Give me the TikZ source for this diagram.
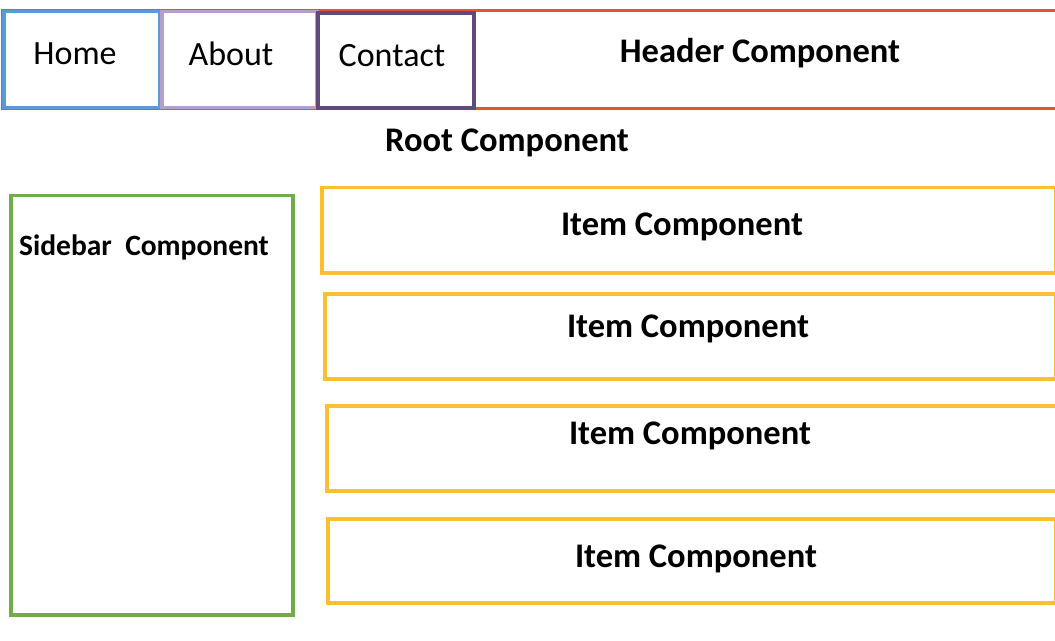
\documentclass[tikz,border=0pt]{standalone}
\usepackage{fontspec}
\setmainfont{Carlito}
\definecolor{headred}{HTML}{E8532F}
\definecolor{navblue}{HTML}{5B9BD5}
\definecolor{navlav}{HTML}{B2A2C7}
\definecolor{navpurple}{HTML}{604A7B}
\definecolor{sidegreen}{HTML}{70AD47}
\definecolor{itemgold}{HTML}{FBBF30}
\begin{document}
\begin{tikzpicture}[x=1bp,y=-1bp,
  frame/.style={draw, line width=3.5bp, inner sep=0pt, anchor=north west},
  navtext/.style={font=\fontsize{34bp}{40bp}\selectfont, anchor=base, inner sep=0pt},
  titletext/.style={font=\fontsize{34.5bp}{40bp}\selectfont\bfseries, anchor=base, inner sep=0pt},
  sidetext/.style={font=\fontsize{29.5bp}{35bp}\selectfont\bfseries, anchor=base, inner sep=0pt}]
  \clip (0,0) rectangle (1055,641);
  \fill[white] (0,0) rectangle (1055,641);

  % header bar with navigation tabs
  \node[frame, draw=headred, minimum width=1070bp, minimum height=98bp] (header) at (1,9) {};
  \node[frame, draw=navblue, minimum width=156bp, minimum height=96bp] (home) at (2,10) {};
  \node[frame, draw=navlav, minimum width=155bp, minimum height=96bp] (about) at (160,10) {};
  \node[frame, draw=navpurple, line width=4bp, minimum width=156bp, minimum height=95bp] (contact) at (316,11) {};
  \node[navtext] (hometext) at (75,65) {Home};
  \node[navtext] (abouttext) at (231,66) {About};
  \node[navtext] (contacttext) at (392,67) {Contact};
  \node[titletext] (headertext) at (760,63) {Header Component};

  % root label
  \node[titletext] (roottext) at (507,152) {Root Component};

  % sidebar
  \node[frame, draw=sidegreen, minimum width=282bp, minimum height=419bp] (sidebar) at (9,194) {};
  \node[sidetext] (sidetext) at (144,256) {Sidebar\ \ Component};

  % item list
  \node[frame, draw=itemgold, minimum width=734bp, minimum height=85bp] (item1) at (320,186) {};
  \node[frame, draw=itemgold, minimum width=731bp, minimum height=85bp] (item2) at (323,292) {};
  \node[frame, draw=itemgold, minimum width=740bp, minimum height=85bp] (item3) at (325,404) {};
  \node[frame, draw=itemgold, minimum width=728bp, minimum height=84bp] (item4) at (326,517) {};
  \node[titletext] (item1text) at (682,236) {Item Component};
  \node[titletext] (item2text) at (688,337) {Item Component};
  \node[titletext] (item3text) at (690,444) {Item Component};
  \node[titletext] (item4text) at (696,567) {Item Component};
\end{tikzpicture}
\end{document}
